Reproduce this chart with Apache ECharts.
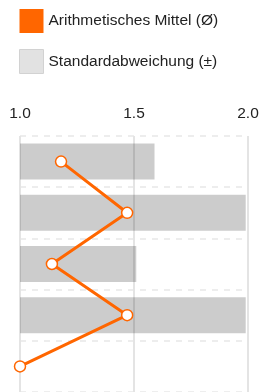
<!DOCTYPE html>
<html>
<head>
<meta charset="utf-8">
<script src="https://cdn.jsdelivr.net/npm/echarts@6/dist/echarts.min.js"></script>
<style>
  html, body { margin: 0; padding: 0; background: #fff; }
  #chart { width: 274px; height: 392px; }
</style>
</head>
<body>
<div id="chart"></div>
<script>
const categories = ['Frage 1', 'Frage 2', 'Frage 3', 'Frage 4', 'Frage 5'];
const meanValues = [1.18, 1.47, 1.14, 1.47, 1.0];
const stdValues = [1.59, 1.99, 1.51, 1.99, null];
const tickValues = [1.0, 1.5, 2.0];

const font = 'Liberation Sans, Arial, sans-serif';
const chart = echarts.init(document.getElementById('chart'));

chart.setOption({
  animation: false,
  legend: {
    orient: 'vertical',
    left: 14,
    top: 4,
    itemWidth: 24,
    itemHeight: 24,
    itemGap: 16,
    selectedMode: false,
    textStyle: { fontSize: 15.5, color: '#222', fontFamily: font },
    data: [
      { name: 'Arithmetisches Mittel (Ø)', icon: 'rect', itemStyle: { color: '#ff6600', borderWidth: 0 } },
      { name: 'Standardabweichung (±)', icon: 'rect', itemStyle: { color: '#e2e2e2', borderColor: '#d2d2d2', borderWidth: 1 } },
    ],
  },
  grid: { left: 20, top: 136, width: 228, height: 260 },
  xAxis: {
    type: 'value',
    position: 'top',
    min: tickValues[0],
    max: tickValues[tickValues.length - 1],
    interval: 0.5,
    axisLine: { show: false },
    axisTick: { show: false },
    axisLabel: {
      fontSize: 15.5,
      color: '#222',
      fontFamily: font,
      margin: 14,
      formatter: v => v.toFixed(1),
    },
    splitLine: { show: true, lineStyle: { color: '#e4e4e4', width: 2 } },
  },
  yAxis: {
    type: 'category',
    inverse: true,
    data: categories,
    axisLine: { show: false },
    axisTick: { show: false },
    axisLabel: { show: false },
    splitLine: { show: true, lineStyle: { color: '#e8e8e8', width: 1.5, type: [6, 6] } },
  },
  series: [
    {
      name: 'Standardabweichung (±)',
      type: 'bar',
      data: stdValues,
      barWidth: 36,
      itemStyle: { color: 'rgba(0,0,0,0.2)' },
    },
    {
      name: 'Arithmetisches Mittel (Ø)',
      type: 'line',
      data: meanValues,
      symbol: 'circle',
      symbolSize: 11,
      itemStyle: { color: '#fff', borderColor: '#ff6600', borderWidth: 1.5 },
      lineStyle: { color: '#ff6600', width: 3 },
    },
  ],
});
</script>
</body>
</html>
